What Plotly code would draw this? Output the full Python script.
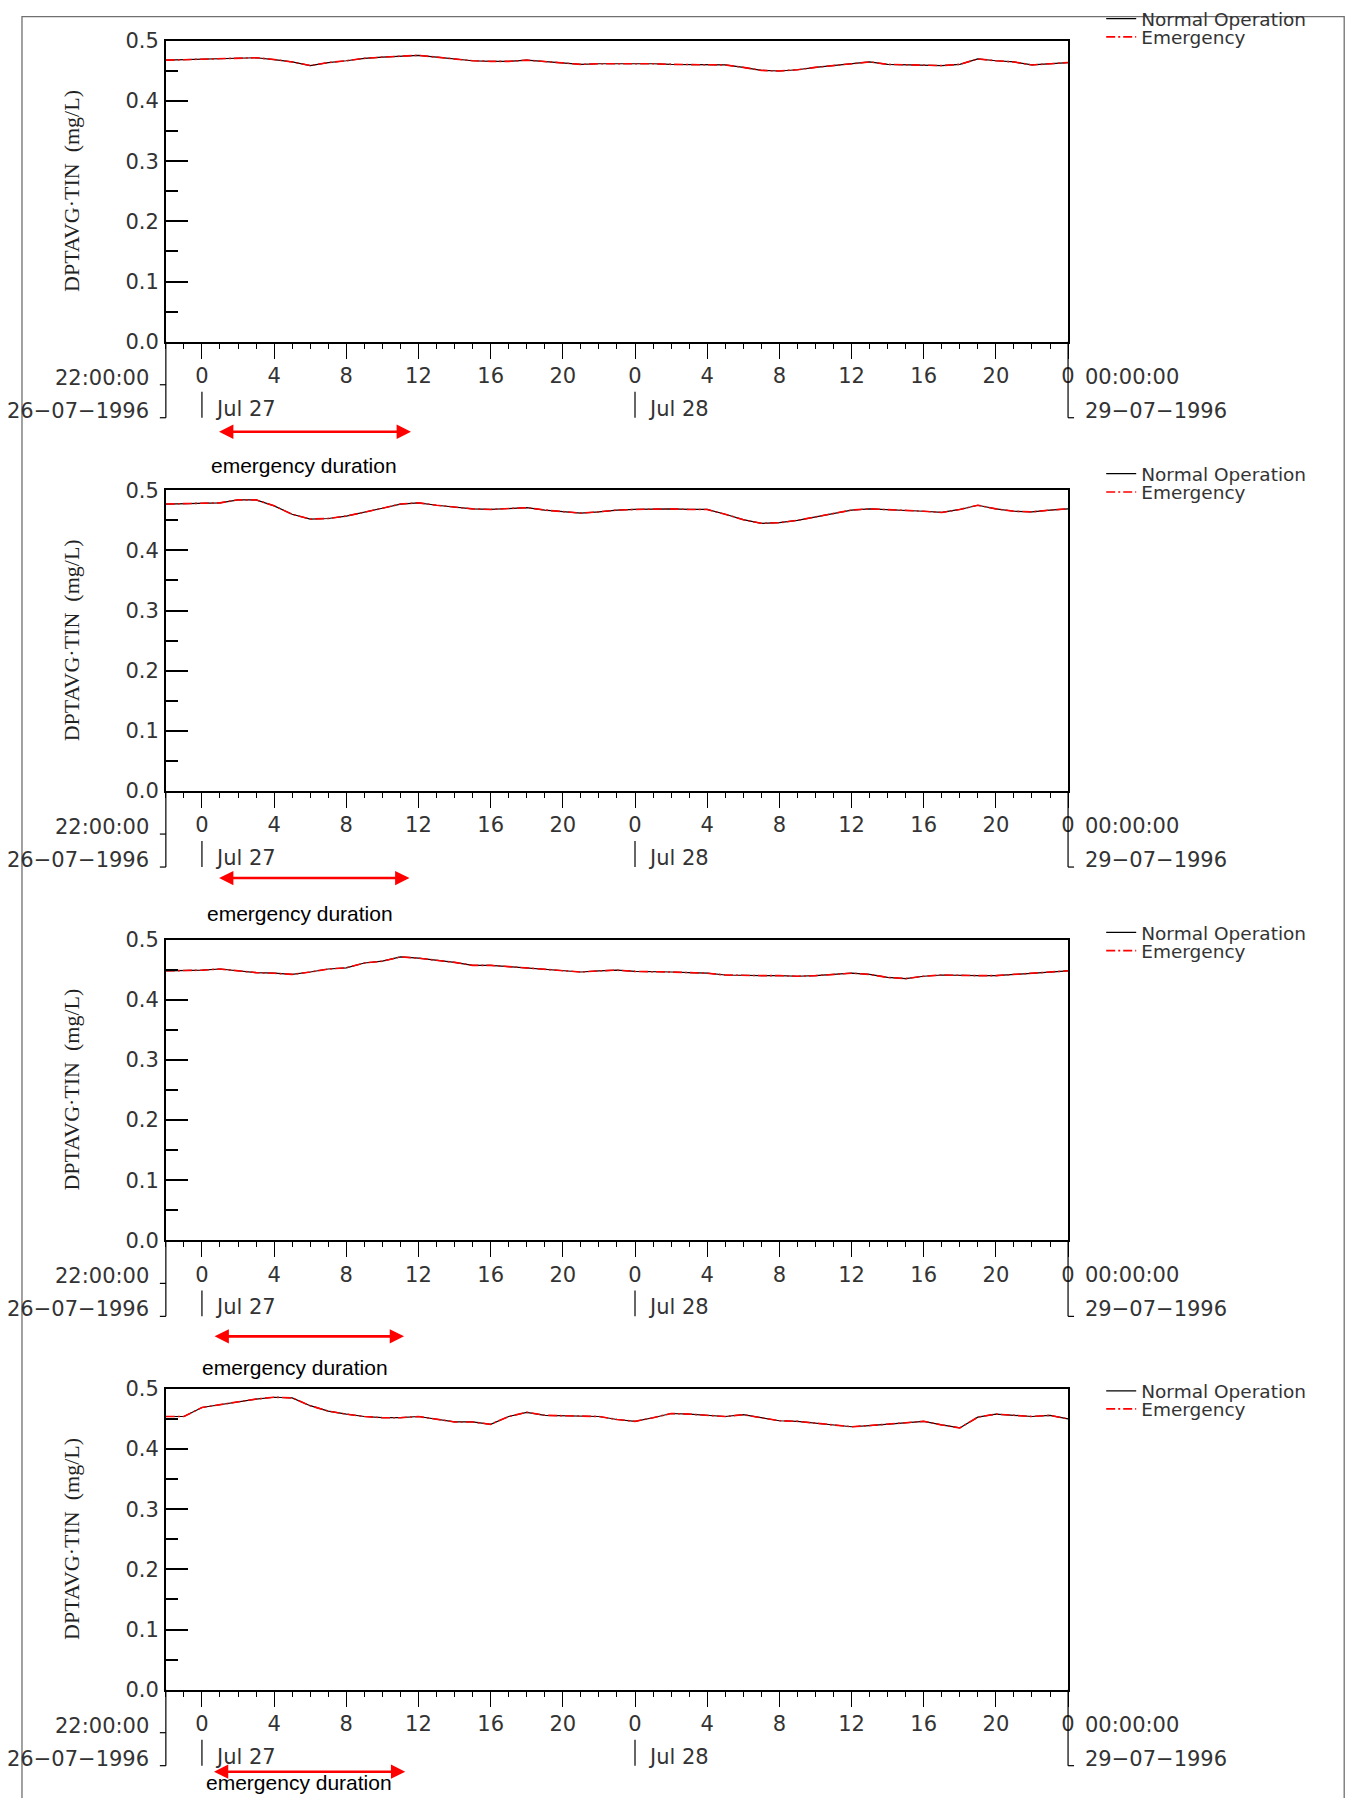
import plotly.graph_objects as go
import pandas as pd

# ---------------- data ----------------
TIMES = pd.date_range("1996-07-26 22:00", "1996-07-29 00:00", freq="h")

NORMAL_1 = [0.468, 0.469, 0.470, 0.471, 0.471, 0.472, 0.469, 0.465, 0.459, 0.464,
            0.467, 0.471, 0.473, 0.475, 0.476, 0.473, 0.470, 0.467, 0.466, 0.466,
            0.468, 0.466, 0.463, 0.461, 0.462, 0.462, 0.463, 0.462, 0.461, 0.461,
            0.461, 0.460, 0.456, 0.451, 0.450, 0.452, 0.456, 0.459, 0.462, 0.465,
            0.461, 0.460, 0.459, 0.459, 0.461, 0.470, 0.467, 0.465, 0.460, 0.462, 0.464]
EMERG_1 = [0.468, 0.469, 0.470, 0.471, 0.471, 0.472, 0.469, 0.465, 0.459, 0.464,
           0.467, 0.471, 0.473, 0.475, 0.476, 0.473, 0.470, 0.467, 0.466, 0.466,
           0.468, 0.466, 0.463, 0.461, 0.462, 0.462, 0.463, 0.462, 0.461, 0.461,
           0.461, 0.460, 0.456, 0.451, 0.450, 0.452, 0.456, 0.459, 0.462, 0.465,
           0.461, 0.460, 0.459, 0.459, 0.461, 0.470, 0.467, 0.465, 0.460, 0.462, 0.464]

NORMAL_2 = [0.477, 0.478, 0.478, 0.479, 0.484, 0.484, 0.474, 0.460, 0.452, 0.453,
            0.457, 0.463, 0.470, 0.477, 0.479, 0.475, 0.472, 0.469, 0.468, 0.470,
            0.471, 0.467, 0.464, 0.462, 0.464, 0.467, 0.468, 0.469, 0.469, 0.468,
            0.468, 0.460, 0.451, 0.445, 0.446, 0.450, 0.456, 0.462, 0.467, 0.469,
            0.468, 0.466, 0.465, 0.463, 0.468, 0.475, 0.469, 0.465, 0.464, 0.467, 0.469]
EMERG_2 = [0.477, 0.478, 0.478, 0.479, 0.484, 0.484, 0.474, 0.460, 0.452, 0.453,
           0.457, 0.463, 0.470, 0.477, 0.479, 0.475, 0.472, 0.469, 0.468, 0.470,
           0.471, 0.467, 0.464, 0.462, 0.464, 0.467, 0.468, 0.469, 0.469, 0.468,
           0.468, 0.460, 0.451, 0.445, 0.446, 0.450, 0.456, 0.462, 0.467, 0.469,
           0.468, 0.466, 0.465, 0.463, 0.468, 0.475, 0.469, 0.465, 0.464, 0.467, 0.469]

NORMAL_3 = [0.448, 0.448, 0.449, 0.451, 0.448, 0.445, 0.444, 0.442, 0.446, 0.451,
            0.453, 0.461, 0.464, 0.471, 0.469, 0.466, 0.462, 0.457, 0.457, 0.455,
            0.453, 0.451, 0.448, 0.446, 0.448, 0.449, 0.447, 0.447, 0.446, 0.445,
            0.444, 0.441, 0.440, 0.440, 0.440, 0.439, 0.440, 0.442, 0.444, 0.442,
            0.437, 0.435, 0.439, 0.441, 0.440, 0.440, 0.440, 0.442, 0.443, 0.445, 0.448]
EMERG_3 = [0.448, 0.448, 0.449, 0.451, 0.448, 0.445, 0.444, 0.442, 0.446, 0.451,
           0.453, 0.461, 0.464, 0.471, 0.469, 0.466, 0.462, 0.457, 0.457, 0.455,
           0.453, 0.451, 0.448, 0.446, 0.448, 0.449, 0.447, 0.447, 0.446, 0.445,
           0.444, 0.441, 0.440, 0.440, 0.440, 0.439, 0.440, 0.442, 0.444, 0.442,
           0.437, 0.435, 0.439, 0.441, 0.440, 0.440, 0.440, 0.442, 0.443, 0.445, 0.448]

NORMAL_4 = [0.454, 0.454, 0.469, 0.474, 0.479, 0.483, 0.486, 0.485, 0.472, 0.463,
            0.458, 0.454, 0.452, 0.452, 0.454, 0.450, 0.445, 0.445, 0.441, 0.454,
            0.461, 0.456, 0.455, 0.454, 0.454, 0.449, 0.446, 0.452, 0.459, 0.458,
            0.456, 0.454, 0.457, 0.452, 0.447, 0.446, 0.443, 0.441, 0.437, 0.439,
            0.441, 0.443, 0.446, 0.440, 0.435, 0.453, 0.458, 0.456, 0.454, 0.456, 0.450]
EMERG_4 = [0.454, 0.454, 0.469, 0.474, 0.479, 0.483, 0.486, 0.485, 0.472, 0.463,
           0.458, 0.454, 0.452, 0.452, 0.454, 0.450, 0.445, 0.445, 0.441, 0.454,
           0.461, 0.456, 0.455, 0.454, 0.454, 0.449, 0.446, 0.452, 0.459, 0.458,
           0.456, 0.454, 0.457, 0.452, 0.447, 0.446, 0.443, 0.441, 0.437, 0.439,
           0.441, 0.443, 0.446, 0.440, 0.435, 0.453, 0.458, 0.456, 0.454, 0.456, 0.450]

NORMAL = [NORMAL_1, NORMAL_2, NORMAL_3, NORMAL_4]
EMERG = [EMERG_1, EMERG_2, EMERG_3, EMERG_4]

SERIES_NAMES = ["Normal Operation", "Emergency"]
Y_TITLE = "DPTAVG·TIN\u00a0\u00a0(mg/L)"
Y_TICKS = [0.0, 0.1, 0.2, 0.3, 0.4, 0.5]
Y_TICK_LABELS = ["0.0", "0.1", "0.2", "0.3", "0.4", "0.5"]
Y_MINOR = [0.05, 0.15, 0.25, 0.35, 0.45]
X_TICK_TIMES = pd.date_range("1996-07-27 00:00", "1996-07-29 00:00", freq="4h")
X_TICK_LABELS = ["0", "4", "8", "12", "16", "20", "0", "4", "8", "12", "16", "20", "0"]
DAY_MARKS = ["1996-07-27 00:00", "1996-07-28 00:00"]
DAY_LABELS = ["Jul 27", "Jul 28"]
START_LABELS = ["22:00:00", "26\u221207\u22121996"]
END_LABELS = ["00:00:00", "29\u221207\u22121996"]
EMERG_START = ["1996-07-27 00:52", "1996-07-27 00:52", "1996-07-27 00:37", "1996-07-27 00:35"]
EMERG_END = ["1996-07-27 11:35", "1996-07-27 11:30", "1996-07-27 11:12", "1996-07-27 11:16"]
EMERG_TEXT = "emergency duration"

# ---------------- layout (target picture pixels) ----------------
W, H = 1352, 1798
# observed page -> picture mapping of the viewer; positions below are
# given in picture pixels and converted back to page pixels
SX, SY, OY = 0.9957, 0.9865, 12.1
PLOT_L, PLOT_R = 166, 1069
PANEL_TOPS = [40, 489.5, 939, 1388.5]
PANEL_H = 301
LEGEND_ROWS = [(18.0, 36.5), (473.3, 491.7), (932.3, 950.6), (1391.0, 1409.0)]
LEGEND_TEXT_X = 1142
ARROW_DY = [90, 87, 96, 82]
TEXT_DY = [124, 122, 127, 93]
TEXT_CX = [304, 300, 295, 299]

TICK_FONT = dict(family="DejaVu Sans ExtraLight, DejaVu Sans, sans-serif", size=21, color="#333333")
LEG_FONT = dict(family="DejaVu Sans ExtraLight, DejaVu Sans, sans-serif", size=18.5, color="#333333")
TITLE_FONT = dict(family="Liberation Serif, serif", size=22, color="#222222")
ANN_FONT = dict(family="Liberation Sans, Arial, sans-serif", size=21, color="#000000")


def px(x):
    return x / SX


def fx(x):
    return px(x) / W


def fy(y):
    return 1 - ((y - OY) / SY) / H


fig = go.Figure()
shapes = []
annotations = []
layout = dict(
    width=W, height=H,
    margin=dict(l=0, r=0, t=0, b=0),
    paper_bgcolor="white", plot_bgcolor="white",
    showlegend=True,
)

for i in range(4):
    n = i + 1
    sfx = "" if n == 1 else str(n)
    xa, ya = "x" + sfx, "y" + sfx
    leg_a = "legend" if n == 1 else "legend" + str(2 * n - 1)
    leg_b = "legend" + str(2 * n)
    top = PANEL_TOPS[i]
    bot = top + PANEL_H

    fig.add_trace(go.Scatter(
        x=TIMES, y=NORMAL[i], mode="lines", name=SERIES_NAMES[0],
        line=dict(color="black", width=1.2), xaxis=xa, yaxis=ya, legend=leg_a))
    fig.add_trace(go.Scatter(
        x=TIMES, y=EMERG[i], mode="lines", name=SERIES_NAMES[1],
        line=dict(color="#ff0000", width=1.6, dash="9px,3px,2px,3px"),
        xaxis=xa, yaxis=ya, legend=leg_b))

    layout["xaxis" + sfx] = dict(
        domain=[fx(PLOT_L), fx(PLOT_R)], anchor=ya, type="date",
        range=[TIMES[0], TIMES[-1]],
        tickmode="array", tickvals=list(X_TICK_TIMES), ticktext=X_TICK_LABELS,
        ticks="outside", ticklen=15, tickwidth=1.2, tickcolor="black",
        showline=True, linewidth=2.2, linecolor="black", mirror=True,
        showgrid=False, zeroline=False, tickfont=TICK_FONT,
        ticklabelstandoff=-1,
        minor=dict(tickmode="linear", tick0=TIMES[0], dtick=3600000,
                   ticks="outside", ticklen=5, tickwidth=1.2, tickcolor="black"),
    )
    layout["yaxis" + sfx] = dict(
        domain=[fy(bot), fy(top)], anchor=xa, range=[0, 0.5],
        tickmode="array", tickvals=Y_TICKS, ticktext=Y_TICK_LABELS,
        ticks="inside", ticklen=22, tickwidth=2, tickcolor="black",
        showline=True, linewidth=1.5, linecolor="black", mirror=True,
        showgrid=False, zeroline=False, tickfont=TICK_FONT,
        ticklabelstandoff=1,
        minor=dict(tickmode="array", tickvals=Y_MINOR, ticks="inside",
                   ticklen=12, tickwidth=2, tickcolor="black"),
    )
    for leg, ypos in zip((leg_a, leg_b), LEGEND_ROWS[i]):
        layout[leg] = dict(
            x=(px(LEGEND_TEXT_X) - 40) / W, y=fy(ypos), xanchor="left", yanchor="middle",
            bgcolor="rgba(0,0,0,0)", borderwidth=0, font=LEG_FONT,
            tracegroupgap=0, itemwidth=30,
        )

    # y-axis title
    annotations.append(dict(
        text=Y_TITLE, textangle=-90, xref="paper", yref="paper",
        x=fx(71.7), y=fy(top + PANEL_H / 2), showarrow=False,
        xanchor="center", yanchor="middle", font=TITLE_FONT))

    # start / end date labels
    annotations.append(dict(text=START_LABELS[0], xref="paper", yref="paper",
                            x=fx(151), y=fy(bot + 36), xanchor="right", yanchor="middle",
                            showarrow=False, font=TICK_FONT))
    annotations.append(dict(text=START_LABELS[1], xref="paper", yref="paper",
                            x=fx(151), y=fy(bot + 69), xanchor="right", yanchor="middle",
                            showarrow=False, font=TICK_FONT))
    annotations.append(dict(text=END_LABELS[0], xref="paper", yref="paper",
                            x=fx(1084), y=fy(bot + 35), xanchor="left", yanchor="middle",
                            showarrow=False, font=TICK_FONT))
    annotations.append(dict(text=END_LABELS[1], xref="paper", yref="paper",
                            x=fx(1084), y=fy(bot + 69), xanchor="left", yanchor="middle",
                            showarrow=False, font=TICK_FONT))

    # day markers
    for d, lab in zip(DAY_MARKS, DAY_LABELS):
        shapes.append(dict(type="line", xref=xa, yref="paper", x0=d, x1=d,
                           y0=fy(bot + 50), y1=fy(bot + 76),
                           line=dict(color="black", width=1.2)))
        annotations.append(dict(text=lab, xref=xa, yref="paper", x=d, xshift=11,
                                y=fy(bot + 67), xanchor="left", yanchor="middle",
                                showarrow=False, font=TICK_FONT))

    # brackets at both ends of the time axis
    shapes.append(dict(type="line", xref="paper", yref="paper",
                       x0=fx(PLOT_L), x1=fx(PLOT_L), y0=fy(bot), y1=fy(bot + 76),
                       line=dict(color="black", width=1.2)))
    shapes.append(dict(type="line", xref="paper", yref="paper",
                       x0=fx(PLOT_L - 6), x1=fx(PLOT_L), y0=fy(bot + 43), y1=fy(bot + 43),
                       line=dict(color="black", width=1.2)))
    shapes.append(dict(type="line", xref="paper", yref="paper",
                       x0=fx(PLOT_L - 6), x1=fx(PLOT_L), y0=fy(bot + 76), y1=fy(bot + 76),
                       line=dict(color="black", width=1.2)))
    shapes.append(dict(type="line", xref="paper", yref="paper",
                       x0=fx(PLOT_R), x1=fx(PLOT_R), y0=fy(bot), y1=fy(bot + 76),
                       line=dict(color="black", width=1.2)))
    shapes.append(dict(type="line", xref="paper", yref="paper",
                       x0=fx(PLOT_R), x1=fx(PLOT_R + 6), y0=fy(bot + 76), y1=fy(bot + 76),
                       line=dict(color="black", width=1.2)))

    # emergency duration arrow + text
    annotations.append(dict(
        text="", xref=xa, yref="paper", x=EMERG_END[i], y=fy(bot + ARROW_DY[i]),
        axref=xa, ax=EMERG_START[i], ayref="pixel", ay=0,
        showarrow=True, arrowhead=2, startarrowhead=2, arrowside="end+start",
        arrowsize=1.1, startarrowsize=1.1, arrowwidth=2.6, arrowcolor="#ff0000",
        standoff=0, startstandoff=0))
    annotations.append(dict(
        text=EMERG_TEXT, xref="paper", yref="paper", x=fx(TEXT_CX[i]),
        y=fy(bot + TEXT_DY[i]), xanchor="center", yanchor="middle",
        showarrow=False, font=ANN_FONT))

# outer frame
shapes.append(dict(type="rect", xref="paper", yref="paper",
                   x0=fx(22), x1=min(fx(1347.5), 1351.2 / W), y0=-0.02, y1=fy(15.7),
                   line=dict(color="#707070", width=1.3), fillcolor="rgba(0,0,0,0)",
                   layer="below"))

layout["shapes"] = shapes
layout["annotations"] = annotations
fig.update_layout(**layout)

fig.write_html("out.html", config={"displayModeBar": False},
               post_script="document.body.style.margin='0';document.body.style.overflow='hidden';")
